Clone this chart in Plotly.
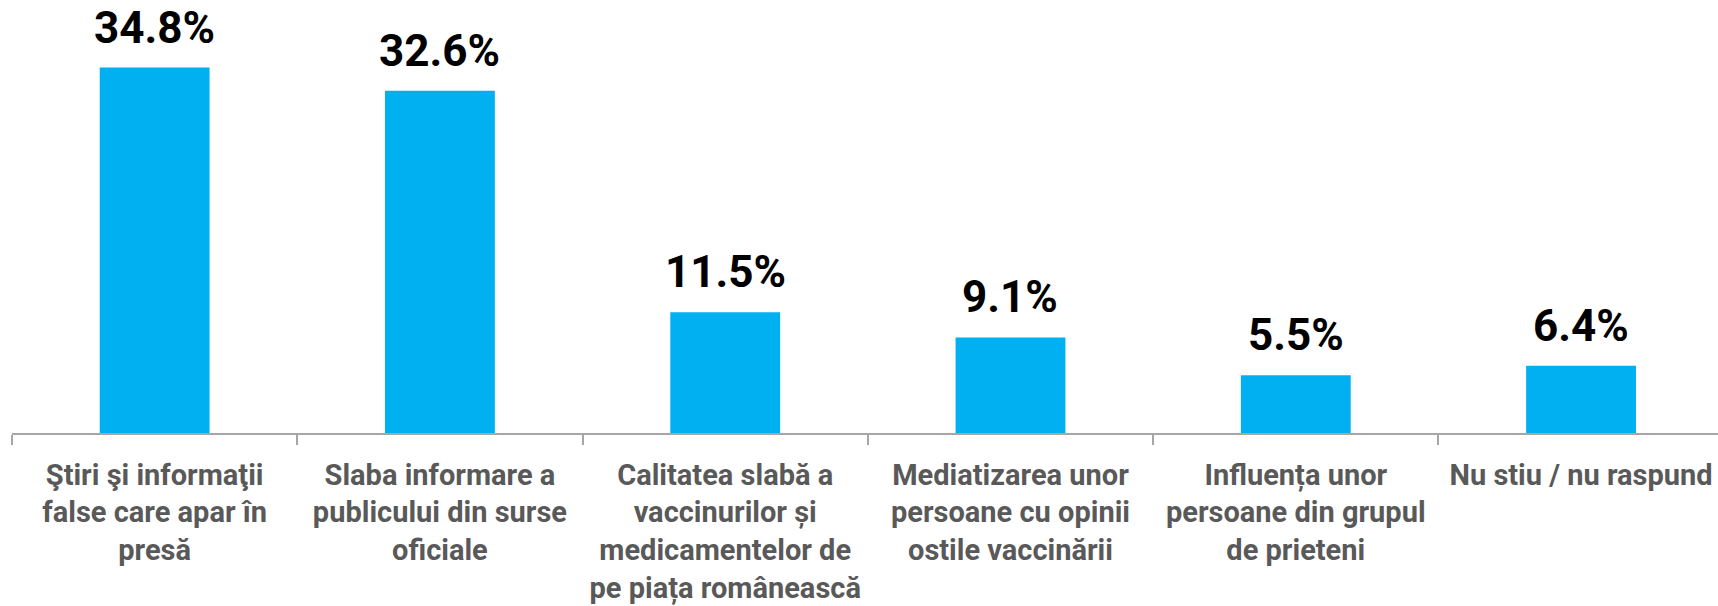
import plotly.graph_objects as go

categories = [
    "Ştiri şi informaţii<br>false care apar în<br>presă",
    "Slaba informare a<br>publicului din surse<br>oficiale",
    "Calitatea slabă a<br>vaccinurilor și<br>medicamentelor de<br>pe piața românească",
    "Mediatizarea unor<br>persoane cu opinii<br>ostile vaccinării",
    "Influența unor<br>persoane din grupul<br>de prieteni",
    "Nu stiu / nu raspund",
]
values = [34.8, 32.6, 11.5, 9.1, 5.5, 6.4]
value_labels = ["34.8%", "32.6%", "11.5%", "9.1%", "5.5%", "6.4%"]

fig = go.Figure()
fig.add_trace(go.Bar(
    x=categories,
    y=values,
    marker=dict(color="#00B0F0", line=dict(width=0)),
    hoverinfo="skip",
))

for c, v, t in zip(categories, values, value_labels):
    fig.add_annotation(
        x=c, y=v, text=t, showarrow=False,
        xanchor="center", yanchor="bottom", yshift=12,
        font=dict(family="Roboto", size=44, color="#000000", weight="bold"),
    )

fig.update_layout(
    width=1718, height=606,
    margin=dict(l=12, r=0, t=13, b=173),
    paper_bgcolor="white", plot_bgcolor="white",
    bargap=0.615,
    showlegend=False,
    xaxis=dict(
        type="category",
        range=[-0.5, 5.48],
        showline=True, linecolor="#A6A6A6", linewidth=1.5,
        ticks="outside", tickson="boundaries", ticklen=10, tickcolor="#A6A6A6", tickwidth=1.5,
        tickfont=dict(family="Roboto", size=29, color="#595959", weight="bold"),
        tickangle=0,
        ticklabelstandoff=15,
        showgrid=False,
        automargin=False,
    ),
    yaxis=dict(
        range=[0, 40], visible=False, showgrid=False, zeroline=False,
    ),
)

fig.write_html(
    "out.html",
    config={"displayModeBar": False},
    post_script="document.body.style.margin='0';",
)
